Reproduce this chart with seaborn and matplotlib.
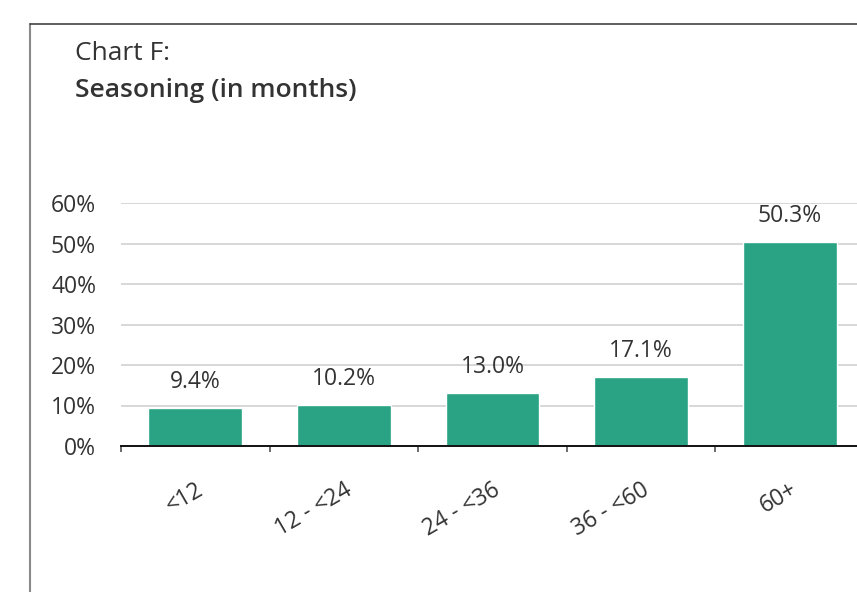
import pandas as pd
import seaborn as sns
import matplotlib.pyplot as plt
from matplotlib.lines import Line2D
from matplotlib.ticker import FuncFormatter, FixedLocator

# chart values
categories = ['<12', '12 - <24', '24 - <36', '36 - <60', '60+']
shares = [9.4, 10.2, 13.0, 17.1, 50.3]
y_ticks = [0, 10, 20, 30, 40, 50, 60]

df = pd.DataFrame({'Seasoning': categories, 'Share': shares})

sns.set_style('white')
plt.rcParams['font.family'] = ['Open Sans', 'DejaVu Sans']
text_col = '#333333'
fs = 16.5

fig = plt.figure(figsize=(8.57, 5.92), dpi=100)
ax = fig.add_axes([121 / 857, 1 - 446 / 592, (864 - 121) / 857, (446 - 203) / 592])

sns.barplot(df, x='Seasoning', y='Share', color='#29a383', width=0.63,
            saturation=1, ax=ax, zorder=3)

ax.set_xlim(-0.5, 4.5)
ax.set_ylim(0, 60)
ax.set_xlabel('')
ax.set_ylabel('')

# grid and spines
ax.yaxis.set_major_locator(FixedLocator(y_ticks))
ax.yaxis.set_major_formatter(FuncFormatter(lambda v, p: f'{v:.0f}%'))
ax.grid(axis='y', color='#d4d4d4', linewidth=1.3, zorder=0)
for s in ['left', 'top', 'right']:
    ax.spines[s].set_visible(False)
ax.spines['bottom'].set_color('#111111')
ax.spines['bottom'].set_linewidth(1.4)
ax.spines['bottom'].set_zorder(4)

ax.tick_params(axis='y', length=0, pad=18, labelsize=fs, labelcolor=text_col)
ax.set_xticks(range(len(categories)))
ax.set_xticklabels(categories, rotation=30, ha='right', va='top',
                   rotation_mode='anchor')
ax.tick_params(axis='x', which='major', length=0, pad=23, labelsize=fs,
               labelcolor=text_col)
ax.set_xticks([i - 0.5 for i in range(len(categories) + 1)], minor=True)
ax.tick_params(axis='x', which='minor', bottom=True, length=4.5, width=1.1,
               color='#444444', direction='out')

# value labels
for i, v in enumerate(shares):
    ax.annotate(f'{v:.1f}%', (i, v), xytext=(0, 10), textcoords='offset points',
                ha='center', va='bottom', fontsize=fs, color=text_col,
                annotation_clip=False)

# titles
fig.text(75 / 857, 1 - 60 / 592, 'Chart F:', fontsize=19, color=text_col)
fig.text(75 / 857, 1 - 97 / 592, 'Seasoning (in months)', fontsize=19,
         fontweight='semibold', color=text_col)

# frame
fig.add_artist(Line2D([30 / 857, 30 / 857], [0, 1 - 24 / 592],
                      transform=fig.transFigure, color='#8a8a8a', linewidth=1.5))
fig.add_artist(Line2D([30 / 857, 1], [1 - 24 / 592, 1 - 24 / 592],
                      transform=fig.transFigure, color='#444444', linewidth=1.2))

fig.savefig('out.png', dpi=100)
